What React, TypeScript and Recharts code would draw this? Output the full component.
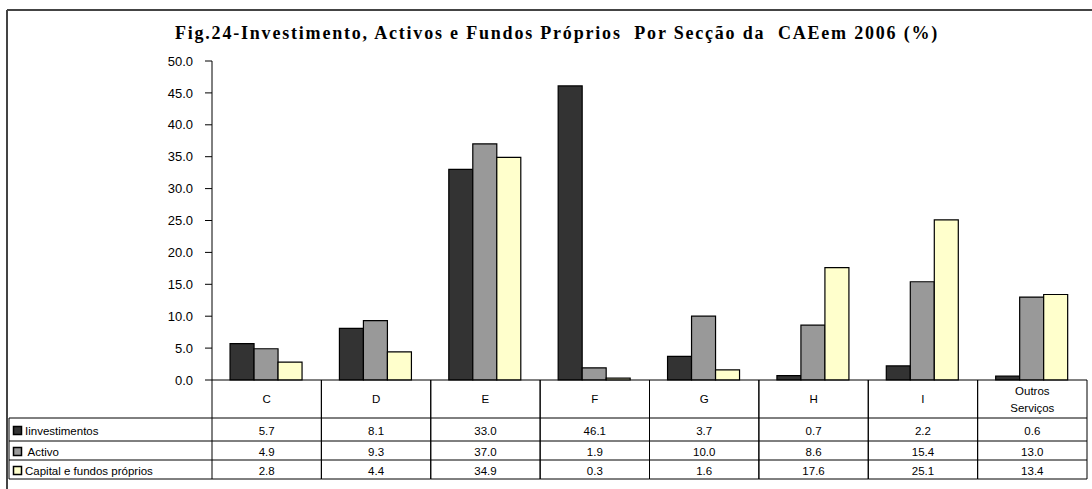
import { BarChart, Bar, XAxis, YAxis } from "recharts";

const categories = ["C", "D", "E", "F", "G", "H", "I", "Outros Serviços"];
const investimentos = [5.7, 8.1, 33.0, 46.1, 3.7, 0.7, 2.2, 0.6];
const activo = [4.9, 9.3, 37.0, 1.9, 10.0, 8.6, 15.4, 13.0];
const capital = [2.8, 4.4, 34.9, 0.3, 1.6, 17.6, 25.1, 13.4];
const yTicks = [0, 5, 10, 15, 20, 25, 30, 35, 40, 45, 50];

const series = [
  { key: "inv", label: "Iinvestimentos", values: investimentos, fill: "#333333" },
  { key: "act", label: " Activo", values: activo, fill: "#999999" },
  { key: "cap", label: "Capital e fundos próprios", values: capital, fill: "#FFFFCC" },
];

const title = "Fig.24-Investimento, Activos e Fundos Próprios  Por Secção da  CAEem 2006 (%)";

const data = categories.map((name, i) => {
  const row: Record<string, string | number> = { name };
  series.forEach((s) => (row[s.key] = s.values[i]));
  return row;
});

// layout
const W = 1092;
const H = 489;
const PLOT_L = 212;
const PLOT_R = 1087;
const PLOT_T = 61;
const PLOT_B = 380;
const ROWS = [PLOT_B, 418, 441, 460, 479];
const FONT = "'Liberation Sans', Arial, sans-serif";

function TableTick(props: any) {
  const { x, payload } = props;
  const bw = (PLOT_R - PLOT_L) / categories.length;
  const x0 = x - bw / 2;
  const x1 = x + bw / 2;
  const idx = categories.indexOf(payload.value);
  const words = String(payload.value).split(" ");
  const headMid = (ROWS[0] + ROWS[1]) / 2;
  return (
    <g fontFamily={FONT} fontSize={11.5} fill="#000">
      <line x1={x0} x2={x0} y1={ROWS[0]} y2={ROWS[4]} stroke="#000" />
      <line x1={x1} x2={x1} y1={ROWS[0]} y2={ROWS[4]} stroke="#000" />
      {ROWS.slice(1).map((y) => (
        <line key={y} x1={x0} x2={x1} y1={y} y2={y} stroke="#000" />
      ))}
      {words.map((w, i) => (
        <text
          key={w}
          x={x}
          y={headMid + (i - (words.length - 1) / 2) * 17}
          textAnchor="middle"
          dominantBaseline="central"
        >
          {w}
        </text>
      ))}
      {series.map((s, r) => (
        <text
          key={s.key}
          x={x}
          y={(ROWS[r + 1] + ROWS[r + 2]) / 2 + 1}
          textAnchor="middle"
          dominantBaseline="central"
        >
          {s.values[idx].toFixed(1)}
        </text>
      ))}
    </g>
  );
}

export default function App() {
  return (
    <div
      style={{
        position: "absolute",
        left: 0,
        top: 0,
        width: W,
        height: H,
        background: "#fff",
        overflow: "hidden",
      }}
    >
      <BarChart
        width={W}
        height={H}
        data={data}
        margin={{ top: PLOT_T, right: W - PLOT_R, bottom: 9, left: PLOT_L - 60 }}
        barCategoryGap="16.5%"
        barGap={0}
      >
        <YAxis
          width={60}
          domain={[0, 50]}
          ticks={yTicks}
          interval={0}
          tickFormatter={(v: number) => v.toFixed(1)}
          axisLine={{ stroke: "#000" }}
          tickLine={{ stroke: "#000" }}
          tickSize={7}
          tickMargin={12}
          tick={{ fill: "#000", fontSize: 13, fontFamily: FONT }}
        />
        <XAxis
          dataKey="name"
          height={100}
          interval={0}
          axisLine={{ stroke: "#000" }}
          tickLine={false}
          tick={<TableTick />}
        />
        {series.map((s) => (
          <Bar
            key={s.key}
            dataKey={s.key}
            fill={s.fill}
            stroke="#000"
            strokeWidth={1.2}
            isAnimationActive={false}
          />
        ))}
      </BarChart>
      <svg
        width={W}
        height={H}
        style={{ position: "absolute", left: 0, top: 0, pointerEvents: "none" }}
      >
        <line x1={7} x2={W} y1={10} y2={10} stroke="#444" strokeWidth={2} />
        <line x1={7} x2={7} y1={10} y2={H} stroke="#444" strokeWidth={2} />
        <text
          x={557}
          y={39}
          textAnchor="middle"
          fontFamily="'Liberation Serif', 'Times New Roman', serif"
          fontWeight="bold"
          fontSize={18}
          letterSpacing={1.8}
          style={{ whiteSpace: "pre" }}
        >
          {title}
        </text>
        <line x1={9} x2={9} y1={ROWS[1]} y2={ROWS[4]} stroke="#000" />
        {ROWS.slice(1).map((y) => (
          <line key={y} x1={9} x2={PLOT_L} y1={y} y2={y} stroke="#000" />
        ))}
        {series.map((s, r) => {
          const cy = (ROWS[r + 1] + ROWS[r + 2]) / 2 + 1;
          return (
            <g key={s.key}>
              <rect x={13.5} y={cy - 4} width={8} height={8} fill={s.fill} stroke="#000" strokeWidth={1.5} />
              <text
                x={25}
                y={cy}
                dominantBaseline="central"
                fontFamily={FONT}
                fontSize={11.5}
                style={{ whiteSpace: "pre" }}
              >
                {s.label}
              </text>
            </g>
          );
        })}
      </svg>
    </div>
  );
}
